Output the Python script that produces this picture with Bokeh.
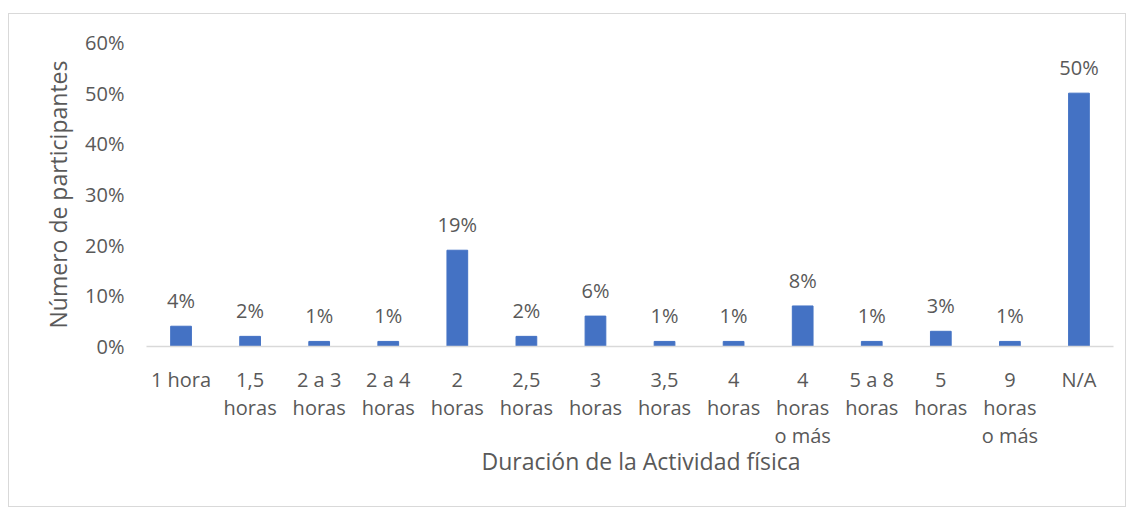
from bokeh.plotting import figure
from bokeh.models import ColumnDataSource, FactorRange, Range1d, NumeralTickFormatter, FixedTicker, Title
from bokeh.core.properties import value
from bokeh.embed import file_html
from bokeh.resources import INLINE

categories = ["1 hora", "1,5\nhoras", "2 a 3\nhoras", "2 a 4\nhoras", "2\nhoras", "2,5\nhoras",
              "3\nhoras", "3,5\nhoras", "4\nhoras", "4\nhoras\no más", "5 a 8\nhoras", "5\nhoras",
              "9\nhoras\no más", "N/A"]
values = [0.04, 0.02, 0.01, 0.01, 0.19, 0.02, 0.06, 0.01, 0.01, 0.08, 0.01, 0.03, 0.01, 0.50]
labels = ["4%", "2%", "1%", "1%", "19%", "2%", "6%", "1%", "1%", "8%", "1%", "3%", "1%", "50%"]
y_ticks = [0, 0.1, 0.2, 0.3, 0.4, 0.5, 0.6]

FONT = "Open Sans"
TXT = "#595959"

src = ColumnDataSource(dict(cat=categories, val=values, lab=labels))

p = figure(x_range=FactorRange(*categories, range_padding=0), y_range=Range1d(0, 0.6),
           width=1118, height=494, output_backend="svg", toolbar_location=None,
           min_border_left=137, min_border_right=14, min_border_top=28, min_border_bottom=162)
p.styles = {"border": "1px solid #d9d9d9", "margin-top": "13px", "margin-left": "8px"}
p.outline_line_color = None
p.xgrid.grid_line_color = None
p.ygrid.grid_line_color = None

p.vbar(x="cat", top="val", width=0.3, source=src, color="#4472C4")
p.text(x="cat", y="val", text="lab", source=src, text_align="center", text_baseline="bottom",
       y_offset=-12, text_font=value(FONT), text_font_size="20px", text_color=TXT)

p.yaxis.ticker = FixedTicker(ticks=y_ticks)
p.yaxis.formatter = NumeralTickFormatter(format="0%")
p.yaxis.axis_line_color = None
p.yaxis.major_tick_line_color = None
p.yaxis.minor_tick_line_color = None
p.yaxis.major_tick_out = 0
p.yaxis.major_label_standoff = 22
p.yaxis.major_label_text_font = FONT
p.yaxis.major_label_text_font_size = "20px"
p.yaxis.major_label_text_color = TXT
p.yaxis.axis_label = "Número de participantes"
p.yaxis.axis_label_text_font = FONT
p.yaxis.axis_label_text_font_size = "23px"
p.yaxis.axis_label_text_font_style = "normal"
p.yaxis.axis_label_text_color = TXT
p.yaxis.axis_label_standoff = 8

p.xaxis.axis_line_color = "#d9d9d9"
p.xaxis.axis_line_width = 1.5
p.xaxis.major_tick_line_color = None
p.xaxis.major_tick_out = 0
p.xaxis.major_label_standoff = 19
p.xaxis.major_label_text_font = FONT
p.xaxis.major_label_text_font_size = "20px"
p.xaxis.major_label_text_color = TXT
p.xaxis.major_label_text_line_height = 1.05

xtitle = Title(text="Duración de la Actividad física", align="left", offset=335,
               text_font=FONT, text_font_size="23px", text_font_style="normal",
               text_color=TXT, standoff=-20)
p.add_layout(xtitle, "below")

open("out.html", "w").write(file_html(p, INLINE))
